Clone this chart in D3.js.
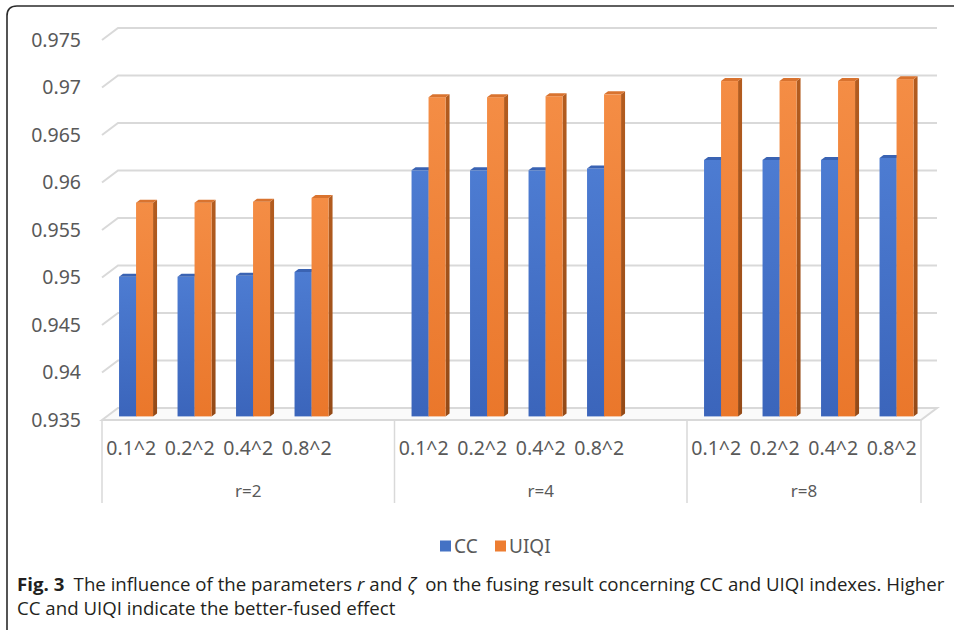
<!DOCTYPE html>
<html>
<head>
<meta charset="utf-8">
<script src="https://cdn.jsdelivr.net/npm/d3@7"></script>
<style>
  html, body { margin: 0; padding: 0; background: #fff; }
  svg { display: block; }
</style>
</head>
<body>
<svg id="chart" width="954" height="630"></svg>
<script>
// ---- data ----
const groups = ["r=2", "r=4", "r=8"];
const categories = ["0.1^2", "0.2^2", "0.4^2", "0.8^2"];
const seriesNames = ["CC", "UIQI"];
const ccValues   = [0.9497, 0.9497, 0.9498, 0.9502,
                    0.9609, 0.9609, 0.9609, 0.9611,
                    0.9620, 0.9620, 0.9620, 0.9622];
const uiqiValues = [0.9575, 0.9575, 0.9576, 0.9580,
                    0.9686, 0.9686, 0.9687, 0.9689,
                    0.9703, 0.9703, 0.9703, 0.9705];
const yTicks = [0.935, 0.94, 0.945, 0.95, 0.955, 0.96, 0.965, 0.97, 0.975];

// ---- layout ----
const svg = d3.select("#chart");
const left = 102, right = 921, floorY = 420, topY = 40;
const DX = 16, DY = -12;            // full depth of the 3-D box
const f0 = 0.3, f1 = 0.55;          // front / back depth of each column
const textColor = "#595959";
const gridColor = "#d9d9d9";

// slots: four categories per group, with an empty slot between groups
const slots = [];
groups.forEach((g, gi) => {
  categories.forEach((c, ci) => slots.push({ key: g + "|" + c, group: g, cat: c, idx: gi * categories.length + ci }));
  if (gi < groups.length - 1) slots.push({ key: g + "|gap", group: g, cat: null, idx: -1 });
});

const x = d3.scaleBand().domain(slots.map(d => d.key)).range([left, right]).padding(0);
const xs = d3.scaleBand().domain(seriesNames).range([0, x.bandwidth()]).paddingInner(0).paddingOuter(0.72);
const y = d3.scaleLinear().domain([yTicks[0], yTicks[yTicks.length - 1]]).range([floorY, topY]);

// ---- gradients ----
const defs = svg.append("defs");
function vGrad(id, stops) {
  const g = defs.append("linearGradient").attr("id", id).attr("x1", 0).attr("y1", 0).attr("x2", 0).attr("y2", 1);
  stops.forEach(([o, c]) => g.append("stop").attr("offset", o).attr("stop-color", c));
}
vGrad("ccFront", [[0, "#4d7cd2"], [1, "#3b65bb"]]);
vGrad("uiFront", [[0, "#f48d45"], [1, "#ea772b"]]);
vGrad("uiSide", [[0, "#b35c1f"], [1, "#944a17"]]);

const palette = {
  CC:   { front: "url(#ccFront)", side: "#2e529a", top: "#3a63b3" },
  UIQI: { front: "url(#uiFront)", side: "url(#uiSide)", top: "#d9732f" }
};

// ---- outer frame ----
svg.append("path")
  .attr("d", "M7,630 L7,16 Q7,6 17,6 L954,6")
  .attr("fill", "none").attr("stroke", "#2b2b2b").attr("stroke-width", 1.6);

// ---- back wall gridlines with side-wall slant ----
const gridG = svg.append("g");
yTicks.slice(1).forEach(t => {
  const yy = y(t);
  gridG.append("polyline")
    .attr("points", [[left, yy], [left + DX, yy + DY], [right + DX, yy + DY]].map(p => p.join(",")).join(" "))
    .attr("fill", "none").attr("stroke", gridColor).attr("stroke-width", 2);
});

// ---- floor ----
svg.append("polygon")
  .attr("points", [[left, floorY], [left + DX, floorY + DY], [right + DX, floorY + DY], [right, floorY]].map(p => p.join(",")).join(" "))
  .attr("fill", "#fafafa").attr("stroke", gridColor).attr("stroke-width", 2);

// ---- y axis labels ----
const yAxis = d3.axisLeft(y).tickValues(yTicks).tickFormat(d3.format("~g")).tickSize(0).tickPadding(0);
const yg = svg.append("g").attr("transform", "translate(81,0)").call(yAxis);
yg.select(".domain").remove();
yg.selectAll("text")
  .attr("font-family", "'Noto Sans', 'Open Sans', sans-serif")
  .attr("font-size", 19.5).attr("fill", textColor);

// ---- columns ----
const ddx = (f1 - f0) * DX, ddy = (f1 - f0) * DY;
const bars = [];
slots.filter(s => s.cat).forEach(s => {
  bars.push({ slot: s, series: "CC", value: ccValues[s.idx] });
  bars.push({ slot: s, series: "UIQI", value: uiqiValues[s.idx] });
});
const barG = svg.append("g");
bars.forEach(b => {
  const x0 = x(b.slot.key) + xs(b.series) + f0 * DX;
  const w = xs.bandwidth();
  const yTop = y(b.value) + f0 * DY;
  const yBot = y(yTicks[0]) + f0 * DY;
  const col = palette[b.series];
  const g = barG.append("g");
  g.append("polygon")
    .attr("points", [[x0 + w, yTop], [x0 + w + ddx, yTop + ddy], [x0 + w + ddx, yBot + ddy], [x0 + w, yBot]].map(p => p.join(",")).join(" "))
    .attr("fill", col.side);
  g.append("rect").attr("x", x0).attr("y", yTop).attr("width", w).attr("height", yBot - yTop).attr("fill", col.front);
  g.append("polygon")
    .attr("points", [[x0, yTop], [x0 + ddx, yTop + ddy], [x0 + w + ddx, yTop + ddy], [x0 + w, yTop]].map(p => p.join(",")).join(" "))
    .attr("fill", col.top);
});

// ---- category axis ----
const axG = svg.append("g");
const groupEdges = [left];
groups.forEach(g => {
  const ks = slots.filter(s => s.group === g);
  groupEdges.push(x(ks[ks.length - 1].key) + x.bandwidth());
});
groupEdges.forEach(ex => {
  axG.append("line").attr("x1", ex).attr("x2", ex).attr("y1", floorY).attr("y2", 503)
    .attr("stroke", gridColor).attr("stroke-width", 1.5);
});
axG.selectAll("text.cat").data(slots.filter(s => s.cat)).join("text")
  .attr("class", "cat")
  .attr("x", d => x(d.key) + x.bandwidth() / 2)
  .attr("y", 447)
  .attr("text-anchor", "middle").attr("dominant-baseline", "central")
  .attr("font-family", "'Noto Sans', 'Open Sans', sans-serif")
  .attr("font-size", 19.5).attr("fill", textColor)
  .text(d => d.cat);
axG.selectAll("text.grp").data(groups).join("text")
  .attr("class", "grp")
  .attr("x", (g, i) => (groupEdges[i] + groupEdges[i + 1]) / 2)
  .attr("y", 490)
  .attr("text-anchor", "middle").attr("dominant-baseline", "central")
  .attr("font-family", "'Noto Sans', 'Open Sans', sans-serif")
  .attr("font-size", 17).attr("fill", textColor)
  .text(d => d);

// ---- legend ----
const legend = svg.append("g");
const legendItems = [
  { name: "CC", color: "#4472c4", x: 440 },
  { name: "UIQI", color: "#ed7d31", x: 495 }
];
legendItems.forEach(it => {
  legend.append("rect").attr("x", it.x).attr("y", 540.5).attr("width", 11).attr("height", 11).attr("fill", it.color);
  legend.append("text").attr("x", it.x + 14).attr("y", 546)
    .attr("dominant-baseline", "central")
    .attr("font-family", "'Noto Sans', 'Open Sans', sans-serif")
    .attr("font-size", 19).attr("fill", textColor).text(it.name);
});

// ---- caption ----
const capFont = "'Open Sans', 'Noto Sans', sans-serif";
const cap1 = svg.append("text").attr("x", 0).attr("y", 0)
  .attr("font-family", capFont).attr("font-size", 17.5).attr("fill", "#231f20");
cap1.append("tspan").attr("font-weight", "bold").text("Fig. 3");
cap1.append("tspan").text("\u2002The influence of the parameters ");
cap1.append("tspan").attr("font-style", "italic").text("r");
cap1.append("tspan").text(" and ");
cap1.append("tspan").attr("font-style", "italic").text("\u03b6");
cap1.append("tspan").text("\u2002on the fusing result concerning CC and UIQI indexes. Higher");
const cap2 = svg.append("text").attr("x", 0).attr("y", 0)
  .attr("font-family", capFont).attr("font-size", 17.5).attr("fill", "#231f20")
  .text("CC and UIQI indicate the better-fused effect");
const sx = (945 - 17) / cap1.node().getComputedTextLength();
cap1.attr("transform", `translate(17,591) scale(${sx},1)`);
cap2.attr("transform", `translate(17,615) scale(${sx},1)`);
</script>
</body>
</html>
